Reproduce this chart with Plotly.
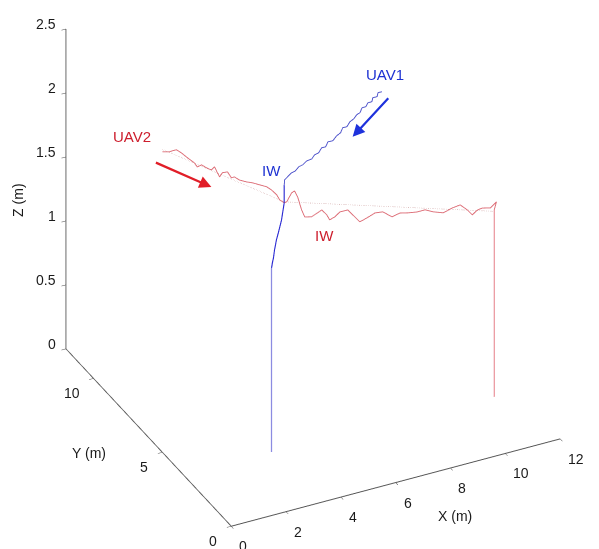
import plotly.graph_objects as go

# UAV2 (red) inbound: start -> IW
r_in_x = [3.13, 3.26, 3.31, 3.38, 3.47, 3.58, 3.70, 3.75, 3.83, 3.92, 4.00, 4.06, 4.11, 4.15, 4.20, 4.29, 4.36, 4.41, 4.50, 4.63, 4.74, 4.86, 4.99, 5.07, 5.17, 5.22, 5.30]
r_in_y = [11.23, 10.97, 10.86, 10.71, 10.52, 10.30, 10.04, 9.93, 9.78, 9.59, 9.40, 9.29, 9.18, 9.10, 9.00, 8.81, 8.66, 8.55, 8.36, 8.10, 7.88, 7.62, 7.36, 7.17, 6.98, 6.87, 6.70]
r_in_z = [1.451, 1.474, 1.491, 1.513, 1.505, 1.486, 1.470, 1.448, 1.477, 1.470, 1.471, 1.505, 1.467, 1.443, 1.484, 1.508, 1.474, 1.492, 1.484, 1.492, 1.504, 1.512, 1.519, 1.512, 1.489, 1.460, 1.452]
# UAV2 (red) outbound: IW -> final point
r_out_x = [5.30, 5.37, 5.51, 5.59, 5.68, 5.79, 5.88, 6.07, 6.24, 6.36, 6.50, 6.58, 6.72, 6.87, 7.09, 7.29, 7.43, 7.63, 7.86, 8.08, 8.34, 8.56, 8.79, 9.04, 9.27, 9.50, 9.78, 10.04, 10.26, 10.46, 10.60, 10.74, 10.88, 11.11, 11.19, 11.28, 11.22]
r_out_y = [6.70, 6.66, 6.58, 6.53, 6.48, 6.41, 6.36, 6.25, 6.15, 6.08, 5.99, 5.95, 5.86, 5.78, 5.65, 5.53, 5.45, 5.33, 5.20, 5.07, 4.92, 4.78, 4.65, 4.50, 4.37, 4.24, 4.07, 3.92, 3.79, 3.67, 3.59, 3.50, 3.42, 3.29, 3.24, 3.19, 3.23]
r_out_z = [1.452, 1.460, 1.532, 1.548, 1.502, 1.402, 1.348, 1.351, 1.384, 1.408, 1.371, 1.333, 1.358, 1.398, 1.416, 1.364, 1.327, 1.360, 1.401, 1.412, 1.375, 1.409, 1.412, 1.422, 1.441, 1.427, 1.423, 1.464, 1.490, 1.453, 1.416, 1.456, 1.473, 1.476, 1.500, 1.525, 1.462]
# UAV2 landing
r_land_x = [11.22, 11.22]
r_land_y = [3.23, 3.23]
r_land_z = [1.462, 0.0]
# UAV2 reference path (dotted)
r_ref_x = [3.13, 5.30, 11.20]
r_ref_y = [11.23, 6.70, 3.24]
r_ref_z = [1.47, 1.46, 1.45]

# UAV1 (blue) inbound: start -> IW
b_in_x = [11.20, 10.96, 10.90, 10.65, 10.59, 10.35, 10.23, 9.99, 9.87, 9.68, 9.50, 9.26, 9.08, 8.83, 8.71, 8.47, 8.23, 7.93, 7.80, 7.56, 7.38, 7.13, 6.96, 6.65, 6.41, 6.17, 5.98, 5.74, 5.50, 5.32, 5.30]
b_in_y = [11.34, 11.15, 11.10, 10.91, 10.86, 10.67, 10.58, 10.38, 10.29, 10.15, 10.00, 9.81, 9.67, 9.48, 9.39, 9.20, 9.00, 8.76, 8.67, 8.48, 8.34, 8.14, 8.00, 7.76, 7.57, 7.38, 7.24, 7.05, 6.86, 6.71, 6.70]
b_in_z = [1.449, 1.477, 1.455, 1.483, 1.461, 1.488, 1.475, 1.503, 1.482, 1.493, 1.489, 1.501, 1.489, 1.517, 1.495, 1.507, 1.505, 1.541, 1.520, 1.548, 1.535, 1.556, 1.551, 1.580, 1.585, 1.605, 1.601, 1.621, 1.625, 1.629, 1.590]
# UAV1 (blue) outbound: IW -> final point
b_out_x = [5.30, 5.30, 4.86, 4.36, 4.02, 3.69, 3.52, 3.35, 3.20]
b_out_y = [6.70, 6.70, 6.02, 5.24, 4.72, 4.20, 3.94, 3.67, 3.44]
b_out_z = [1.590, 1.452, 1.422, 1.447, 1.463, 1.464, 1.441, 1.449, 1.440]
# UAV1 landing
b_land_x = [3.20, 3.20]
b_land_y = [3.44, 3.44]
b_land_z = [1.440, 0.0]

x_ticks = [0, 2, 4, 6, 8, 10, 12]
y_ticks = [0, 5, 10]
z_ticks = [0, 0.5, 1, 1.5, 2, 2.5]
z_ticktext = ["0", "0.5", "1", "1.5", "2", "2.5"]
X_MAX, Y_MAX, Z_MAX = 12, 12, 2.5

RED = "rgb(220,105,115)"
RED_L = "rgb(230,125,135)"
BLUE = "rgb(70,75,200)"
BLUE_L = "rgb(140,140,225)"
FONT = "Liberation Sans, Arial"

fig = go.Figure()
fig.add_trace(go.Scatter3d(x=r_ref_x, y=r_ref_y, z=r_ref_z, mode="lines",
                           line=dict(color="rgb(200,150,150)", width=1.2, dash="dot")))
fig.add_trace(go.Scatter3d(x=r_in_x, y=r_in_y, z=r_in_z, mode="lines", line=dict(color=RED, width=1.8)))
fig.add_trace(go.Scatter3d(x=r_out_x, y=r_out_y, z=r_out_z, mode="lines", line=dict(color=RED, width=1.8)))
fig.add_trace(go.Scatter3d(x=r_land_x, y=r_land_y, z=r_land_z, mode="lines", line=dict(color=RED_L, width=2)))
fig.add_trace(go.Scatter3d(x=b_in_x, y=b_in_y, z=b_in_z, mode="lines", line=dict(color=BLUE, width=1.8)))
fig.add_trace(go.Scatter3d(x=b_out_x, y=b_out_y, z=b_out_z, mode="lines", line=dict(color="rgb(40,40,210)", width=2.2)))
fig.add_trace(go.Scatter3d(x=b_land_x, y=b_land_y, z=b_land_z, mode="lines", line=dict(color=BLUE_L, width=2.5)))

axis_common = dict(showgrid=False, showbackground=False, zeroline=False, showline=True,
                   linecolor="#555555", linewidth=2, ticks="outside", tickcolor="#444444", ticklen=5,
                   showspikes=False, showticklabels=False, title=dict(text=""))

tick_font = dict(family=FONT, size=14, color="#1a1a1a")
ann_font = dict(family=FONT, size=15)
annotations = []
# tick labels (horizontal, as in the original)
for v in x_ticks:
    annotations.append(dict(x=v, y=0, z=0, text=str(v), showarrow=False, xanchor="left", yanchor="middle",
                            xshift=6, yshift=-20, font=tick_font))
for v in y_ticks:
    annotations.append(dict(x=0, y=v, z=0, text=str(v), showarrow=False, xanchor="right", yanchor="middle",
                            xshift=-12, yshift=-15, font=tick_font))
for v, t in zip(z_ticks, z_ticktext):
    annotations.append(dict(x=0, y=Y_MAX, z=v, text=t, showarrow=False, xanchor="right", yanchor="middle",
                            xshift=-8, yshift=5, font=tick_font))
# axis titles
annotations += [
    dict(x=8, y=0, z=0, text="X (m)", showarrow=False, xshift=5, yshift=-48, font=tick_font),
    dict(x=0, y=6, z=0, text="Y (m)", showarrow=False, xshift=-60, yshift=-15, font=tick_font),
    dict(x=0, y=Y_MAX, z=Z_MAX / 2, text="Z (m)", showarrow=False, textangle=-90, xshift=-48, yshift=-11,
         font=tick_font),
]
# labels and arrows
annotations += [
    dict(x=b_in_x[0], y=b_in_y[0], z=b_in_z[0], text="UAV1", showarrow=False, xshift=3, yshift=17,
         font=dict(color="rgb(30,50,210)", **ann_font)),
    dict(x=b_in_x[13], y=b_in_y[13], z=b_in_z[13], text="", showarrow=True, xshift=10, yshift=-9,
         ax=37, ay=-40, arrowcolor="rgb(30,50,220)", arrowwidth=2.2, arrowhead=2, arrowsize=1.1),
    dict(x=r_in_x[0], y=r_in_y[0], z=r_in_z[0], text="UAV2", showarrow=False, xshift=-30, yshift=15,
         font=dict(color="rgb(205,30,45)", **ann_font)),
    dict(x=r_in_x[10], y=r_in_y[10], z=r_in_z[10], text="", showarrow=True, xshift=0, yshift=-17,
         ax=-57, ay=-25, arrowcolor="rgb(225,30,40)", arrowwidth=2.2, arrowhead=2, arrowsize=1.1),
    dict(x=b_in_x[29], y=b_in_y[29], z=b_in_z[29], text="IW", showarrow=False, xshift=-13, yshift=9,
         font=dict(color="rgb(30,50,210)", **ann_font)),
    dict(x=r_out_x[0], y=r_out_y[0], z=r_out_z[0], text="IW", showarrow=False, xshift=40, yshift=-33,
         font=dict(color="rgb(205,30,45)", **ann_font)),
]

fig.update_layout(
    width=599, height=549, showlegend=False,
    paper_bgcolor="white", plot_bgcolor="white",
    margin=dict(l=0, r=0, t=0, b=0),
    scene=dict(
        xaxis=dict(range=[0, X_MAX], tickvals=x_ticks, **axis_common),
        yaxis=dict(range=[0, Y_MAX], tickvals=y_ticks, **axis_common),
        zaxis=dict(range=[0, Z_MAX], tickvals=z_ticks, **axis_common),
        aspectmode="manual", aspectratio=dict(x=1.338, y=1.352, z=1.378),
        camera=dict(eye=dict(x=-0.559, y=-1.013, z=0.555), up=dict(x=0, y=0, z=1),
                    center=dict(x=-0.0793, y=-0.0487, z=-0.1249), projection=dict(type="orthographic")),
        domain=dict(x=[0, 1], y=[0, 1]),
        annotations=annotations,
    ),
)

fig.write_html("out.html", config={"displayModeBar": False})
